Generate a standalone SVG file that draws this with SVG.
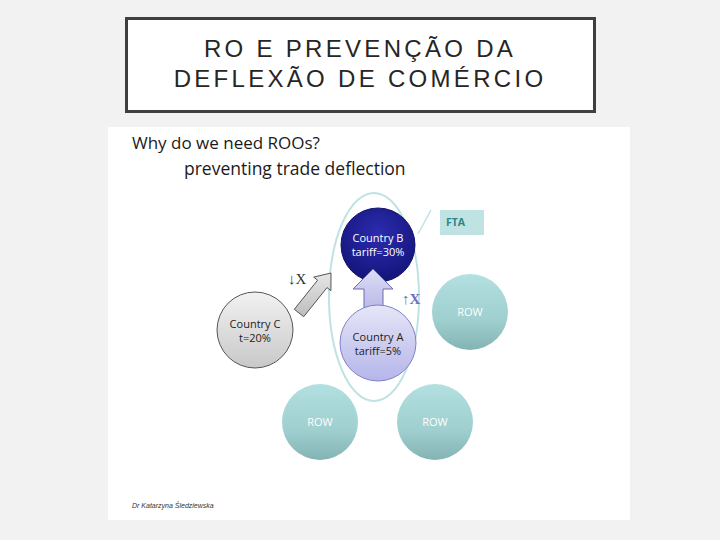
<svg xmlns="http://www.w3.org/2000/svg" width="720" height="540" viewBox="0 0 720 540">
<defs>
<style>
.t{font-family:"Open Sans","Liberation Sans",sans-serif;}
.ct{font-family:"Open Sans","Liberation Sans",sans-serif;font-size:11px;text-anchor:middle;}
.row{fill:url(#gRow);}
.rowt{fill:#ffffff;}
.ser{font-family:"Liberation Serif",serif;font-size:15px;}
.ttl{font-family:"Liberation Sans",sans-serif;font-size:24px;letter-spacing:3.3px;text-anchor:middle;fill:#262626;}
</style>
<linearGradient id="gRow" x1="0" y1="0" x2="0" y2="1"><stop offset="0" stop-color="#b3e0e0"/><stop offset="0.6" stop-color="#9fcfcf"/><stop offset="1" stop-color="#84b3b3"/></linearGradient>
<radialGradient id="gB" cx="0.5" cy="0.35" r="0.65"><stop offset="0" stop-color="#2c2cb0"/><stop offset="1" stop-color="#14147a"/></radialGradient>
<linearGradient id="gA" x1="0" y1="0" x2="0" y2="1"><stop offset="0" stop-color="#e6e6f8"/><stop offset="1" stop-color="#b5b5ea"/></linearGradient>
<linearGradient id="gC" x1="0" y1="0" x2="0" y2="1"><stop offset="0" stop-color="#f2f2f2"/><stop offset="1" stop-color="#c8c8c8"/></linearGradient>
<linearGradient id="gUp" x1="0" y1="0" x2="0" y2="1"><stop offset="0" stop-color="#dcdcf5"/><stop offset="1" stop-color="#b8b8e8"/></linearGradient>
<linearGradient id="gG" x1="0" y1="0" x2="0" y2="1"><stop offset="0" stop-color="#e6e6e6"/><stop offset="1" stop-color="#bdbdbd"/></linearGradient>
</defs>
<rect x="0" y="0" width="720" height="540" fill="#f2f2f2"/>
<g id="title">
<rect x="126.5" y="18.5" width="468" height="93" fill="#ffffff" stroke="#3f3f3f" stroke-width="3"/>
<text x="360" y="57" class="ttl">RO E PREVENÇÃO DA</text>
<text x="360" y="87" class="ttl">DEFLEXÃO DE COMÉRCIO</text>
</g>
<rect x="108" y="127" width="522" height="393" fill="#ffffff"/>
<text x="132" y="149" class="t" font-size="17" fill="#1a1a1a">Why do we need ROOs?</text>
<text x="184" y="175" class="t" font-size="17.5" fill="#1a1a1a">preventing trade deflection</text>
<g id="fta">
<ellipse cx="374" cy="297" rx="45" ry="104" fill="none" stroke="#bfe2e2" stroke-width="2"/>
<line x1="431" y1="210" x2="418" y2="234" stroke="#bfe2e2" stroke-width="1.5"/>
<rect x="440" y="210" width="44" height="25" fill="#bfe3e3"/>
<text x="446" y="226" class="t" font-size="10.5" font-weight="bold" fill="#2f8585">FTA</text>
</g>
<g id="row1"><circle cx="470" cy="312" r="38" class="row"/><text x="470" y="316" class="ct rowt">ROW</text></g>
<g id="row2"><circle cx="320" cy="422" r="38" class="row"/><text x="320" y="426" class="ct rowt">ROW</text></g>
<g id="row3"><circle cx="435" cy="422" r="38" class="row"/><text x="435" y="426" class="ct rowt">ROW</text></g>
<g id="countryB"><circle cx="378" cy="245" r="37" fill="url(#gB)" stroke="#141470" stroke-width="1"/>
<text x="378" y="242" class="ct" fill="#ffffff">Country B</text><text x="378" y="256" class="ct" fill="#ffffff">tariff=30%</text></g>
<g id="connectors">
<path d="M364,310 L364,289 L353,289 L373,269 L393,289 L383,289 L383,310 Z" fill="url(#gUp)" stroke="#6c6cb0" stroke-width="1"/>
<path d="M294.3,309.3 L317.6,280.2 L313.7,277.1 L331,273 L330.9,290.7 L327,287.6 L303.7,316.7 Z" fill="url(#gG)" stroke="#555" stroke-width="1"/>
<text x="288" y="284" class="ser" fill="#333">↓X</text>
<text x="402" y="304" class="ser" fill="#6e6ec0" font-weight="bold">↑X</text>
</g>
<g id="countryA"><circle cx="378" cy="343" r="38" fill="url(#gA)" stroke="#8080c8" stroke-width="1"/>
<text x="378" y="341" class="ct" fill="#222">Country A</text><text x="378" y="355" class="ct" fill="#222">tariff=5%</text></g>
<g id="countryC"><circle cx="255" cy="330" r="38" fill="url(#gC)" stroke="#555" stroke-width="1"/>
<text x="255" y="328" class="ct" fill="#222">Country C</text><text x="255" y="342" class="ct" fill="#222">t=20%</text></g>
<text x="132" y="508" font-family="Liberation Sans,sans-serif" font-size="7" font-style="italic" fill="#333">Dr Katarzyna Śledziewska</text>
</svg>
